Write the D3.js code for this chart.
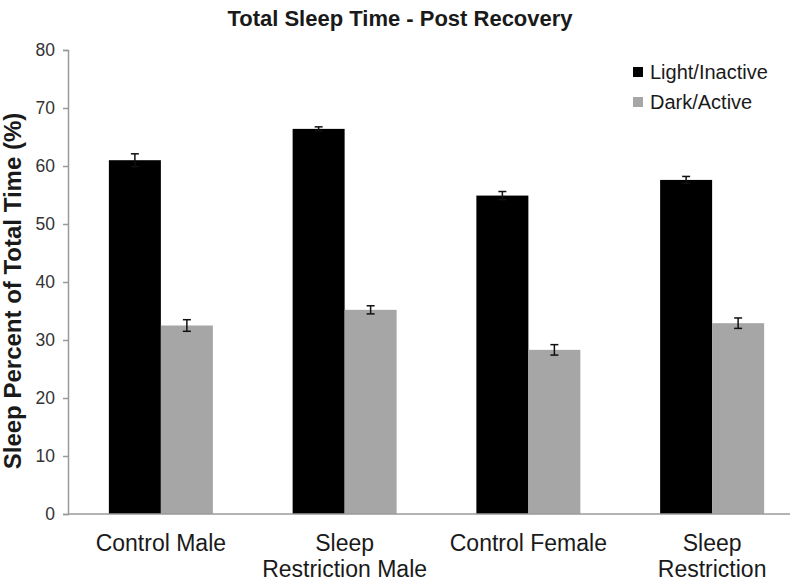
<!DOCTYPE html>
<html>
<head>
<meta charset="utf-8">
<script src="https://cdn.jsdelivr.net/npm/d3@7"></script>
<style>
  body { margin: 0; background: #fff; }
  text { font-family: "Liberation Sans", Arial, sans-serif; }
</style>
</head>
<body>
<svg id="chart" width="800" height="583"></svg>
<script>
const categories = [["Control Male"], ["Sleep", "Restriction Male"], ["Control Female"], ["Sleep", "Restriction"]];
const seriesNames = ["Light/Inactive", "Dark/Active"];
const lightValues = [61.0, 66.4, 54.9, 57.6];
const lightErrors = [1.1, 0.35, 0.7, 0.6];
const darkValues = [32.5, 35.2, 28.3, 32.9];
const darkErrors = [1.0, 0.7, 0.9, 0.9];
const yTicks = [0, 10, 20, 30, 40, 50, 60, 70, 80];
const colors = ["#000000", "#a6a6a6"];

const svg = d3.select("#chart");
const W = 800, H = 583;
const plotLeft = 68, plotRight = 790, plotTop = 50, plotBottom = 514;

const x0 = d3.scaleBand().domain(d3.range(categories.length))
  .range([69, 804]).paddingInner(0).paddingOuter(0);
const x1 = d3.scaleBand().domain([0, 1]).range([0, x0.bandwidth()]).paddingInner(0).paddingOuter(0.767);
const y = d3.scaleLinear().domain([0, 80]).range([plotBottom, plotTop]);

// Title
svg.append("text").attr("x", 400).attr("y", 26).attr("text-anchor", "middle")
  .attr("font-size", 22).attr("font-weight", "bold").attr("fill", "#1a1a1a")
  .text("Total Sleep Time - Post Recovery");

// Y axis
const yAxis = svg.append("g").attr("transform", `translate(${plotLeft},0)`)
  .call(d3.axisLeft(y).tickValues(yTicks).tickSize(5).tickPadding(8));
yAxis.select(".domain").attr("stroke", "#9a9a9a").attr("stroke-width", 1.5);
yAxis.selectAll(".tick line").attr("stroke", "#9a9a9a").attr("stroke-width", 1.5);
yAxis.selectAll(".tick text").attr("font-size", 17.5).attr("fill", "#333")
  .style("font-family", '"Liberation Sans", Arial, sans-serif');

// Y label
svg.append("text").attr("transform", `translate(21,291) rotate(-90)`)
  .attr("text-anchor", "middle").attr("font-size", 24).attr("font-weight", "bold")
  .attr("fill", "#1a1a1a").text("Sleep Percent of Total Time (%)");

// Bars
const data = categories.map((c, i) => ({
  i, vals: [
    { s: 0, v: lightValues[i], e: lightErrors[i] },
    { s: 1, v: darkValues[i], e: darkErrors[i] }
  ]
}));
const groups = svg.append("g").selectAll("g").data(data).join("g")
  .attr("transform", d => `translate(${x0(d.i)},0)`);
groups.selectAll("rect").data(d => d.vals).join("rect")
  .attr("x", d => x1(d.s)).attr("width", x1.bandwidth())
  .attr("y", d => y(d.v)).attr("height", d => y(0) - y(d.v))
  .attr("fill", d => colors[d.s]);

// Error bars
const eb = groups.selectAll("g.err").data(d => d.vals).join("g").attr("class", "err");
eb.append("line")
  .attr("x1", d => x1(d.s) + x1.bandwidth() / 2).attr("x2", d => x1(d.s) + x1.bandwidth() / 2)
  .attr("y1", d => y(d.v + d.e)).attr("y2", d => y(d.v - d.e))
  .attr("stroke", "#111").attr("stroke-width", 1.5);
eb.selectAll("line.cap").data(d => [d.v + d.e, d.v - d.e].map(v => ({ v, s: d.s }))).join("line")
  .attr("class", "cap")
  .attr("x1", d => x1(d.s) + x1.bandwidth() / 2 - 4).attr("x2", d => x1(d.s) + x1.bandwidth() / 2 + 4)
  .attr("y1", d => y(d.v)).attr("y2", d => y(d.v))
  .attr("stroke", "#111").attr("stroke-width", 1.5);

// X axis line
svg.append("line").attr("x1", plotLeft).attr("x2", plotRight)
  .attr("y1", y(0)).attr("y2", y(0)).attr("stroke", "#9a9a9a").attr("stroke-width", 1.5);

// Category labels
const cl = svg.append("g").selectAll("text").data(categories).join("text")
  .attr("x", (d, i) => x0(i) + x0.bandwidth() / 2).attr("y", 551)
  .attr("text-anchor", "middle").attr("font-size", 23).attr("fill", "#1a1a1a");
cl.selectAll("tspan").data(d => d).join("tspan")
  .attr("x", function () { return d3.select(this.parentNode).attr("x"); })
  .attr("dy", (d, j) => j === 0 ? 0 : 26).text(d => d);

// Legend
const lg = svg.append("g").selectAll("g").data(seriesNames).join("g")
  .attr("transform", (d, i) => `translate(633,${72 + i * 30})`);
lg.append("rect").attr("x", 0).attr("y", -5).attr("width", 10).attr("height", 10)
  .attr("fill", (d, i) => colors[i]);
lg.append("text").attr("x", 17).attr("y", 7).attr("font-size", 20).attr("fill", "#1a1a1a").text(d => d);
</script>
</body>
</html>
